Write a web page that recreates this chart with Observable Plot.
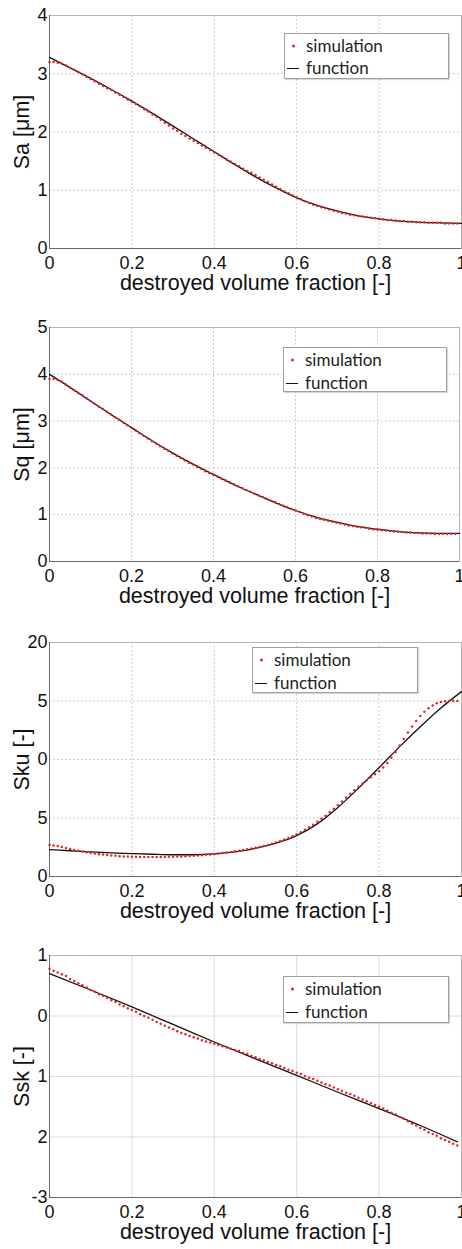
<!DOCTYPE html>
<html>
<head>
<meta charset="utf-8">
<script src="https://cdn.jsdelivr.net/npm/d3@7"></script>
<script src="https://cdn.jsdelivr.net/npm/@observablehq/plot@0.6"></script>
<style>
  html, body { margin: 0; padding: 0; background: #fff; }
  #root { position: relative; width: 462px; height: 1249px; overflow: hidden; }
  .panel { position: absolute; left: 0; }
  .legend { position: absolute; border: 1px solid #a0a0a0; background: #fff; box-sizing: border-box;
            font-family: Lato, "Open Sans", sans-serif; font-size: 17px; color: #222; box-shadow: 1px 1px 1px rgba(0,0,0,0.15); }
  .legend .lbl { position: absolute; left: 21px; line-height: 20px; transform: translateY(-50%); white-space: nowrap; }
  .legend .dotm { position: absolute; left: 7px; width: 3px; height: 3px; border-radius: 50%; background: #e0262b; transform: translateY(-50%); }
  .legend .dash { position: absolute; left: 2px; width: 12px; height: 0; border-top: 1.6px solid #111; }
</style>
</head>
<body>
<div id="root"></div>
<script>
// ---------- shared ----------
const xLabel = "destroyed volume fraction [-]";
const xTickValues = [0, 0.2, 0.4, 0.6, 0.8, 1];
const xTickLabels = ["0", "0.2", "0.4", "0.6", "0.8", "1"];
const legendLabels = ["simulation", "function"];

// simulation x positions (every 0.01)
const simX = [0.00,0.01,0.02,0.03,0.04,0.05,0.06,0.07,0.08,0.09,0.10,0.11,0.12,0.13,0.14,0.15,0.16,0.17,0.18,0.19,
  0.20,0.21,0.22,0.23,0.24,0.25,0.26,0.27,0.28,0.29,0.30,0.31,0.32,0.33,0.34,0.35,0.36,0.37,0.38,0.39,
  0.40,0.41,0.42,0.43,0.44,0.45,0.46,0.47,0.48,0.49,0.50,0.51,0.52,0.53,0.54,0.55,0.56,0.57,0.58,0.59,
  0.60,0.61,0.62,0.63,0.64,0.65,0.66,0.67,0.68,0.69,0.70,0.71,0.72,0.73,0.74,0.75,0.76,0.77,0.78,0.79,
  0.80,0.81,0.82,0.83,0.84,0.85,0.86,0.87,0.88,0.89,0.90,0.91,0.92,0.93,0.94,0.95,0.96,0.97,0.98,0.99];

// function x positions
const fnX = [0,0.05,0.1,0.15,0.2,0.25,0.3,0.35,0.4,0.45,0.5,0.55,0.6,0.65,0.7,0.75,0.8,0.85,0.9,0.95,1.0];

// ---------- Sa ----------
const saLabel = "Sa [\u03bcm]";
const saTicks = [0, 1, 2, 3, 4];
const saTickLabels = ["0", "1", "2", "3", "4"];
const saSim = [3.20,3.20,3.19,3.17,3.14,3.10,3.07,3.03,2.99,2.95,2.91,2.87,2.83,2.79,2.75,2.72,2.68,2.64,2.60,2.56,
  2.52,2.48,2.44,2.39,2.35,2.30,2.26,2.21,2.16,2.11,2.06,2.02,1.97,1.93,1.89,1.85,1.81,1.77,1.73,1.69,
  1.65,1.61,1.57,1.53,1.49,1.45,1.41,1.37,1.33,1.30,1.26,1.22,1.18,1.14,1.10,1.06,1.02,0.98,0.95,0.91,
  0.88,0.85,0.81,0.78,0.75,0.73,0.71,0.69,0.67,0.65,0.63,0.61,0.60,0.58,0.57,0.56,0.55,0.54,0.53,0.52,
  0.51,0.50,0.49,0.49,0.48,0.47,0.47,0.46,0.46,0.45,0.45,0.45,0.44,0.44,0.44,0.44,0.43,0.43,0.43,0.43];
const saFn = [3.28,3.10,2.92,2.73,2.53,2.32,2.10,1.88,1.66,1.44,1.23,1.04,0.87,0.74,0.64,0.56,0.51,0.47,0.45,0.44,0.43];

// ---------- Sq ----------
const sqLabel = "Sq [\u03bcm]";
const sqTicks = [0, 1, 2, 3, 4, 5];
const sqTickLabels = ["0", "1", "2", "3", "4", "5"];
const sqSim = [3.90,3.90,3.88,3.84,3.78,3.72,3.66,3.60,3.55,3.49,3.43,3.37,3.31,3.26,3.20,3.14,3.08,3.03,2.97,2.91,
  2.86,2.80,2.74,2.68,2.63,2.57,2.52,2.46,2.41,2.36,2.31,2.26,2.21,2.16,2.11,2.07,2.02,1.98,1.93,1.89,
  1.85,1.81,1.77,1.73,1.69,1.65,1.61,1.57,1.53,1.49,1.45,1.41,1.38,1.34,1.30,1.27,1.23,1.19,1.16,1.12,
  1.09,1.06,1.02,0.99,0.96,0.93,0.91,0.89,0.87,0.85,0.83,0.81,0.79,0.77,0.76,0.74,0.73,0.72,0.70,0.69,
  0.68,0.67,0.66,0.65,0.64,0.64,0.63,0.62,0.62,0.61,0.61,0.60,0.60,0.60,0.59,0.59,0.59,0.59,0.59,0.59];
const sqFn = [4.00,3.72,3.43,3.14,2.86,2.58,2.32,2.08,1.86,1.64,1.45,1.26,1.09,0.95,0.84,0.75,0.69,0.64,0.61,0.60,0.60];

// ---------- Sku ----------
const skuLabel = "Sku [-]";
const skuTicks = [0, 5, 10, 15, 20];
const skuTickLabels = ["0", "5", "0", "5", "20"];
const skuSim = [2.70,2.66,2.60,2.52,2.43,2.35,2.27,2.20,2.13,2.07,2.01,1.96,1.91,1.87,1.83,1.80,1.77,1.74,1.72,1.70,
  1.69,1.68,1.67,1.66,1.66,1.66,1.66,1.67,1.67,1.68,1.69,1.70,1.72,1.73,1.75,1.77,1.80,1.82,1.85,1.88,
  1.92,1.96,2.00,2.05,2.10,2.15,2.21,2.27,2.33,2.39,2.45,2.53,2.61,2.70,2.80,2.91,3.03,3.16,3.30,3.45,
  3.61,3.79,3.99,4.20,4.43,4.67,4.93,5.20,5.49,5.79,6.10,6.42,6.75,7.07,7.38,7.67,7.95,8.22,8.48,8.74,
  9.00,9.32,9.70,10.15,10.65,11.20,11.75,12.30,12.82,13.30,13.72,14.08,14.38,14.62,14.80,14.92,14.98,15.00,15.00,15.00];
const skuFn = [2.30,2.20,2.10,2.02,1.96,1.90,1.86,1.86,1.93,2.10,2.40,2.85,3.50,4.50,5.90,7.55,9.30,11.10,12.80,14.40,15.80];

// ---------- Ssk ----------
const sskLabel = "Ssk [-]";
const sskTicks = [-3, -2, -1, 0, 1];
const sskTickLabels = ["-3", "2", "1", "0", "1"];
const sskSim = [0.78,0.75,0.72,0.69,0.66,0.61,0.58,0.54,0.51,0.47,0.43,0.40,0.36,0.33,0.30,0.26,0.23,0.19,0.16,0.13,
  0.10,0.07,0.03,0.00,-0.03,-0.06,-0.10,-0.13,-0.16,-0.19,-0.22,-0.25,-0.28,-0.30,-0.33,-0.35,-0.37,-0.40,-0.42,-0.44,
  -0.46,-0.48,-0.50,-0.52,-0.54,-0.56,-0.58,-0.61,-0.63,-0.66,-0.68,-0.71,-0.73,-0.76,-0.78,-0.81,-0.83,-0.86,-0.89,-0.91,
  -0.94,-0.96,-0.99,-1.02,-1.04,-1.07,-1.10,-1.13,-1.15,-1.18,-1.21,-1.24,-1.27,-1.29,-1.32,-1.35,-1.38,-1.41,-1.44,-1.47,
  -1.50,-1.53,-1.56,-1.60,-1.63,-1.67,-1.70,-1.74,-1.78,-1.81,-1.85,-1.88,-1.92,-1.95,-1.98,-2.02,-2.05,-2.08,-2.11,-2.14];
const sskFnX = [0,0.1,0.2,0.3,0.4,0.5,0.6,0.7,0.8,0.9,0.99];
const sskFn = [0.70,0.43,0.15,-0.14,-0.43,-0.71,-0.98,-1.26,-1.53,-1.81,-2.08];

// ---------- panels ----------
const panels = [
  {top: 0,   plotH: 233, mb: 58, yLabel: saLabel,  ticks: saTicks,  tickLabels: saTickLabels,  sim: saSim,  fnX: fnX,     fn: saFn,  gridDash: "1.5,2.5", mr: 1,
   legend: {left: 284, top: 33, w: 165, h: 46, r1: 12, r2: 34}},
  {top: 312, plotH: 234, mb: 58, yLabel: sqLabel,  ticks: sqTicks,  tickLabels: sqTickLabels,  sim: sqSim,  fnX: fnX,     fn: sqFn,  gridDash: "1.5,2.5", mr: 3,
   legend: {left: 283, top: 347, w: 164, h: 45, r1: 12, r2: 35}},
  {top: 627, plotH: 234, mb: 58, yLabel: skuLabel, ticks: skuTicks, tickLabels: skuTickLabels, sim: skuSim, fnX: fnX,     fn: skuFn, gridDash: "1.5,2.5", mr: 1,
   legend: {left: 252, top: 647, w: 166, h: 46, r1: 12, r2: 35}},
  {top: 940, plotH: 242, mb: 52, yLabel: sskLabel, ticks: sskTicks, tickLabels: sskTickLabels, sim: sskSim, fnX: sskFnX, fn: sskFn, gridDash: null, mr: 1,
   legend: {left: 283, top: 976, w: 166, h: 47, r1: 12, r2: 35}}
];

const root = document.getElementById("root");
for (const p of panels) {
  const simData = simX.map((x, i) => ({x, y: p.sim[i]}));
  const fnData = p.fnX.map((x, i) => ({x, y: p.fn[i]}));
  const ymin = p.ticks[0], ymax = p.ticks[p.ticks.length - 1];
  const gridStyle = p.gridDash ? {stroke: "#bdbdbd", strokeOpacity: 1, strokeDasharray: p.gridDash}
                               : {stroke: "#dcdcdc", strokeOpacity: 1};
  const mt = 15;
  const chart = Plot.plot({
    width: 462,
    height: mt + p.plotH + p.mb,
    marginLeft: 49, marginRight: p.mr, marginTop: mt, marginBottom: p.mb,
    style: {fontFamily: "'Liberation Sans', Arial, sans-serif", background: "transparent", color: "#111"},
    x: {domain: [0, 1]},
    y: {domain: [ymin, ymax]},
    marks: [
      Plot.gridX(xTickValues.slice(1, -1), gridStyle),
      Plot.gridY(p.ticks.slice(1, -1), gridStyle),
      Plot.frame({stroke: "#b5b5b5"}),
      Plot.ruleX([0], {stroke: "#666"}),
      Plot.ruleY([ymin], {stroke: "#666"}),
      Plot.axisX(xTickValues, {tickSize: 0, tickPadding: 8, fontSize: 18, label: null,
        tickFormat: d => xTickLabels[xTickValues.indexOf(d)]}),
      Plot.axisY(p.ticks, {tickSize: 0, tickPadding: 2, fontSize: 18, label: null,
        tickFormat: d => p.tickLabels[p.ticks.indexOf(d)]}),
      Plot.line(fnData, {x: "x", y: "y", stroke: "#111", strokeWidth: 1.3, curve: "monotone-x"}),
      Plot.dot(simData, {x: "x", y: "y", r: 1.25, fill: "#e0262b", stroke: "none"}),
      Plot.text([xLabel], {text: d => d, frameAnchor: "bottom", lineAnchor: "middle", textAnchor: "middle",
        dy: 35, fontSize: 21.5, fill: "#111"}),
      Plot.text([p.yLabel], {text: d => d, frameAnchor: "left", lineAnchor: "middle", textAnchor: "middle",
        rotate: -90, dx: -27, fontSize: 21.5, fill: "#111"})
    ]
  });
  const wrap = document.createElement("div");
  wrap.className = "panel";
  wrap.style.top = p.top + "px";
  wrap.appendChild(chart);
  root.appendChild(wrap);

  const L = p.legend;
  const lg = document.createElement("div");
  lg.className = "legend";
  Object.assign(lg.style, {left: L.left + "px", top: L.top + "px", width: L.w + "px", height: L.h + "px"});
  lg.innerHTML =
    `<div class="dotm" style="top:${L.r1}px"></div><div class="lbl" style="top:${L.r1}px">${legendLabels[0]}</div>` +
    `<div class="dash" style="top:${L.r2}px"></div><div class="lbl" style="top:${L.r2}px">${legendLabels[1]}</div>`;
  root.appendChild(lg);
}
</script>
</body>
</html>
